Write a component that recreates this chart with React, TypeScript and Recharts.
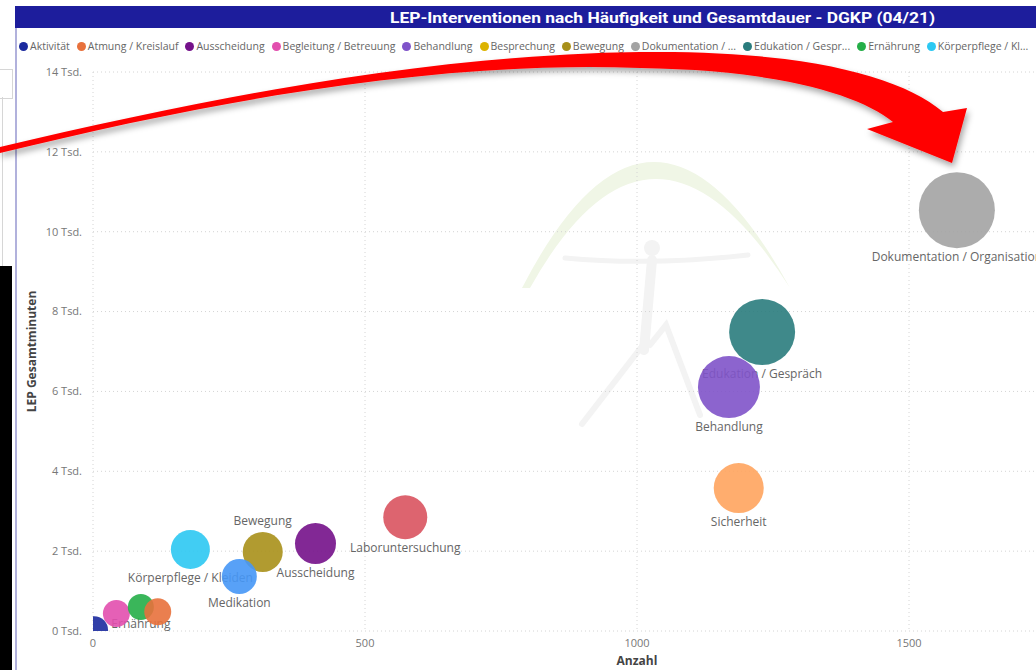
import React from 'react';
import { ScatterChart, Scatter, XAxis, YAxis, ZAxis, CartesianGrid } from 'recharts';

// Bubbles in drawing order (later ones sit on top)
const categories = [
  'Dokumentation / Organisation',
  'Edukation / Gespräch',
  'Behandlung',
  'Sicherheit',
  'Laboruntersuchung',
  'Ausscheidung',
  'Bewegung',
  'Körperpflege / Kleiden',
  'Medikation',
  'Begleitung / Betreuung',
  'Ernährung',
  'Atmung / Kreislauf',
  'Aktivität',
];
const anzahl = [1588, 1230, 1169, 1187, 574, 409, 312, 179, 269, 43, 88, 119, 2];
const gesamtminuten = [10540, 7490, 6110, 3580, 2850, 2190, 1980, 2040, 1365, 440, 600, 480, 20];
const groesse = [1444, 1089, 961, 625, 484, 420, 400, 380, 306, 182, 169, 182, 196];
// where Power BI kept the data label
const labelPlacement = ['below', 'below', 'below', 'below', 'below', 'below', 'above', 'below', 'below', 'none', 'below', 'none', 'none'];

const legendNames = [
  'Aktivität',
  'Atmung / Kreislauf',
  'Ausscheidung',
  'Begleitung / Betreuung',
  'Behandlung',
  'Besprechung',
  'Bewegung',
  'Dokumentation / ...',
  'Edukation / Gespr...',
  'Ernährung',
  'Körperpflege / Kl...',
];
const legendKeys = [
  'Aktivität',
  'Atmung / Kreislauf',
  'Ausscheidung',
  'Begleitung / Betreuung',
  'Behandlung',
  'Besprechung',
  'Bewegung',
  'Dokumentation / Organisation',
  'Edukation / Gespräch',
  'Ernährung',
  'Körperpflege / Kleiden',
];

const xTicks = [0, 500, 1000, 1500];
const yTicks = [0, 2000, 4000, 6000, 8000, 10000, 12000, 14000];

const colorMap: Record<string, string> = {
  'Aktivität': '#1b2a9e',
  'Atmung / Kreislauf': '#e8713c',
  'Ausscheidung': '#74118a',
  'Begleitung / Betreuung': '#e24fae',
  'Behandlung': '#7f53c9',
  'Besprechung': '#dcb300',
  'Bewegung': '#a8901a',
  'Dokumentation / Organisation': '#a3a3a3',
  'Edukation / Gespräch': '#2a7c7d',
  'Ernährung': '#25ae48',
  'Körperpflege / Kleiden': '#2cc8f2',
  'Laboruntersuchung': '#d9535f',
  'Medikation': '#4697f6',
  'Sicherheit': '#ffa45e',
};

const points = categories.map((name, i) => ({
  name,
  x: anzahl[i],
  y: gesamtminuten[i],
  z: groesse[i],
  placement: labelPlacement[i],
  color: colorMap[name],
}));

const FONT = '"Open Sans", "Noto Sans", sans-serif';
const CHART_H = 670;
const X_AXIS_H = 39;
const PLOT_BOTTOM = CHART_H - X_AXIS_H;

const radiusOf = (props: any) =>
  props.width ? props.width / 2 : Math.sqrt(Math.max(props.size || 0, 0) / Math.PI);

const Bubble = (props: any) => {
  const { cx, cy, payload } = props;
  return <circle cx={cx} cy={cy} r={radiusOf(props)} fill={payload.color} fillOpacity={0.9} />;
};

const BubbleLabel = (props: any) => {
  const { cx, cy, payload } = props;
  if (payload.placement === 'none') return <g />;
  const r = radiusOf(props);
  // keep labels inside the plot, like Power BI does near the axis
  const y = payload.placement === 'above' ? cy - r - 10 : Math.min(cy + r + 10, PLOT_BOTTOM - 6);
  return (
    <text x={cx} y={y} textAnchor="middle" dominantBaseline="middle" fontSize={12} fontFamily={FONT} fill="#666">
      {payload.name}
    </text>
  );
};

// faint logo behind the plot
const Watermark = () => (
  <svg width={1036} height={670} style={{ position: 'absolute', left: 0, top: 0 }}>
    <path d="M 522 288 Q 652 36 790 288 Q 652 70 530 288 Z" fill="#f0f6e6" />
    <g stroke="#f3f3f3" strokeLinecap="round" fill="none">
      <circle cx={652} cy={248} r={8} fill="#f3f3f3" stroke="none" />
      <path d="M 565 258 Q 650 266 748 255" strokeWidth={5} />
      <path d="M 652 260 L 644 350" strokeWidth={10} />
      <path d="M 643 345 L 582 424" strokeWidth={6} />
      <path d="M 650 345 L 666 325 L 700 415" strokeWidth={6} />
    </g>
  </svg>
);

const Arrow = () => (
  <svg width={1036} height={670} style={{ position: 'absolute', left: 0, top: 0, pointerEvents: 'none' }}>
    <defs>
      <filter id="arrowShadow" x="-5%" y="-20%" width="110%" height="160%">
        <feDropShadow dx={2} dy={4} stdDeviation={3} floodColor="#000" floodOpacity={0.35} />
      </filter>
    </defs>
    <path
      d="M 0 147 C 200 100, 420 55, 640 52 C 800 50, 900 75, 943 112 L 967 108 L 952 163 L 867 129 L 893 122 C 860 95, 780 70, 640 68 C 430 60, 200 104, 0 153 Z"
      fill="#ff0000"
      filter="url(#arrowShadow)"
    />
  </svg>
);

const App: React.FC = () => {
  return (
    <div style={{ position: 'absolute', left: 0, top: 0, width: 1036, height: 670, overflow: 'hidden', background: '#fff', fontFamily: FONT }}>
      {/* neighbouring report elements on the left */}
      <div style={{ position: 'absolute', left: -1, top: 69, width: 12, height: 28, border: '1px solid #d6d6d6' }} />
      <div style={{ position: 'absolute', left: 2, top: 97, width: 1, height: 169, background: '#d6d6d6' }} />
      <div style={{ position: 'absolute', left: 0, top: 266, width: 12, height: 404, background: '#000' }} />
      <div style={{ position: 'absolute', left: 15, top: 6, width: 2, height: 664, background: '#b1b1dc' }} />

      {/* title bar */}
      <svg width={1021} height={22} style={{ position: 'absolute', left: 15, top: 6 }}>
        <rect x={0} y={0} width={1021} height={22} fill="#1d1d9c" />
        <text x={375} y={16.5} textLength={545} lengthAdjust="spacingAndGlyphs" fontSize={15} fontWeight={700} fontFamily="Roboto, sans-serif" fill="#fff">
          LEP-Interventionen nach Häufigkeit und Gesamtdauer - DGKP (04/21)
        </text>
      </svg>

      {/* legend */}
      <div style={{ position: 'absolute', left: 19, top: 39, display: 'flex', alignItems: 'center', whiteSpace: 'nowrap', fontSize: 10.5, color: '#666' }}>
        {legendNames.map((n, i) => (
          <div key={n} style={{ display: 'flex', alignItems: 'center', marginRight: 7 }}>
            <span style={{ width: 9, height: 9, borderRadius: '50%', background: colorMap[legendKeys[i]], marginRight: 2 }} />
            <span>{n}</span>
          </div>
        ))}
      </div>

      <Watermark />

      <div style={{ position: 'absolute', left: 0, top: 0 }}>
        <ScatterChart width={1200} height={CHART_H} margin={{ top: 72, right: 19, bottom: 0, left: 16 }}>
          <CartesianGrid stroke="#d4d4d4" strokeDasharray="1 3" />
          <XAxis
            type="number"
            dataKey="x"
            domain={[0, 2000]}
            ticks={xTicks}
            allowDataOverflow
            axisLine={false}
            tickLine={false}
            height={X_AXIS_H}
            tick={{ fill: '#777', fontSize: 11, fontFamily: FONT }}
            label={{ value: 'Anzahl', position: 'insideBottom', offset: 5, fill: '#444', fontSize: 12, fontWeight: 700, fontFamily: FONT }}
          />
          <YAxis
            type="number"
            dataKey="y"
            domain={[0, 14000]}
            ticks={yTicks}
            allowDataOverflow
            axisLine={false}
            tickLine={false}
            width={77}
            tickMargin={5}
            tickFormatter={(v: number) => `${v / 1000} Tsd.`}
            tick={{ fill: '#777', fontSize: 11, fontFamily: FONT }}
            label={{ value: 'LEP Gesamtminuten', angle: -90, position: 'insideLeft', offset: 16, fill: '#444', fontSize: 12, fontWeight: 700, fontFamily: FONT, style: { textAnchor: 'middle' } }}
          />
          <ZAxis type="number" dataKey="z" domain={[0, 1444]} range={[0, Math.PI * 38 * 38]} />
          <Scatter data={points} shape={BubbleLabel} isAnimationActive={false} />
          <Scatter data={points} shape={Bubble} isAnimationActive={false} />
        </ScatterChart>
      </div>

      <Arrow />
    </div>
  );
};

export default App;
